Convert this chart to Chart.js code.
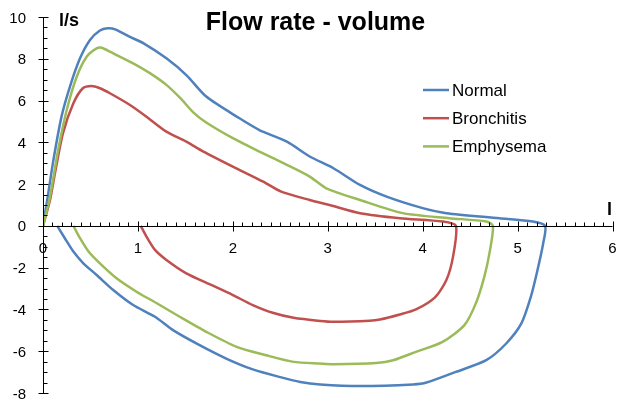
<!DOCTYPE html>
<html>
<head>
<meta charset="utf-8">
<script src="https://cdn.jsdelivr.net/npm/chart.js@4.4.1/dist/chart.umd.min.js"></script>
<style>
  html, body { margin: 0; padding: 0; background: #ffffff; }
  #wrap { width: 617px; height: 403px; position: relative; }
</style>
</head>
<body>
<div id="wrap"><canvas id="c" width="617" height="403"></canvas></div>
<script>
// ---- Data (volume in l, flow rate in l/s) ----
const seriesNames = ["Normal", "Bronchitis", "Emphysema"];
const seriesColors = ["#4F81BD", "#C0504D", "#9BBB59"];

const normalX = [0, 0.05, 0.11, 0.195, 0.284, 0.39, 0.495, 0.6, 0.68, 0.76, 0.9, 1.06, 1.3, 1.51, 1.72, 2.07, 2.28, 2.57, 2.81, 3.06, 3.34, 3.62, 4.0, 4.25, 4.81, 5.16, 5.29,
  5.27, 5.21, 5.14, 5.04, 4.88, 4.67, 4.35, 4.04, 3.90, 3.34, 2.92, 2.71, 2.49, 2.21, 1.93, 1.65, 1.37, 1.18, 0.95, 0.74, 0.565, 0.425, 0.32, 0.23, 0.15];
const normalY = [0, 1.4, 3.16, 5.23, 6.67, 8.02, 8.9, 9.35, 9.46, 9.41, 9.08, 8.74, 8.02, 7.22, 6.19, 5.15, 4.59, 4.03, 3.32, 2.76, 1.96, 1.40, 0.85, 0.61, 0.37, 0.21, 0,
  -0.83, -2.11, -3.39, -4.67, -5.63, -6.43, -6.99, -7.50, -7.59, -7.67, -7.59, -7.47, -7.23, -6.87, -6.35, -5.71, -4.99, -4.35, -3.79, -3.07, -2.35, -1.79, -1.23, -0.59, 0];

const bronchitisX = [0, 0.074, 0.126, 0.21, 0.32, 0.42, 0.51, 0.6, 0.705, 0.916, 1.09, 1.30, 1.51, 1.69, 2.0, 2.32, 2.51, 2.81, 3.02, 3.34, 3.76, 4.21, 4.35,
  4.32, 4.25, 4.13, 3.93, 3.76, 3.55, 3.44, 3.06, 2.92, 2.64, 2.42, 2.21, 2.0, 1.76, 1.51, 1.30, 1.18, 1.09, 1.03];
const bronchitisY = [0, 1.24, 2.52, 4.43, 5.87, 6.59, 6.70, 6.59, 6.35, 5.79, 5.23, 4.51, 4.03, 3.56, 2.84, 2.12, 1.64, 1.24, 1.0, 0.61, 0.37, 0.21, 0,
  -1.47, -2.59, -3.42, -4.0, -4.24, -4.48, -4.54, -4.59, -4.55, -4.40, -4.16, -3.79, -3.31, -2.80, -2.27, -1.63, -1.15, -0.51, 0];

const emphysemaX = [0, 0.074, 0.16, 0.25, 0.355, 0.46, 0.565, 0.618, 0.705, 0.95, 1.13, 1.30, 1.45, 1.58, 1.72, 2.0, 2.28, 2.57, 2.81, 2.985, 3.34, 3.79, 4.28, 4.67, 4.74,
  4.71, 4.65, 4.56, 4.44, 4.21, 3.93, 3.69, 3.51, 3.06, 2.92, 2.64, 2.35, 2.04, 1.72, 1.44, 1.19, 0.985, 0.775, 0.58, 0.48, 0.39, 0.32];
const emphysemaY = [0, 1.40, 3.64, 5.55, 7.14, 8.10, 8.50, 8.53, 8.34, 7.78, 7.30, 6.75, 6.10, 5.45, 4.95, 4.20, 3.56, 2.92, 2.36, 1.80, 1.24, 0.61, 0.37, 0.21, 0,
  -1.15, -2.43, -3.71, -4.75, -5.55, -6.03, -6.43, -6.56, -6.62, -6.59, -6.51, -6.19, -5.79, -5.07, -4.35, -3.68, -3.15, -2.51, -1.71, -1.23, -0.59, 0];

// Axis settings
const xMin = 0, xMax = 6, xStep = 1, xMinorStep = 0.1;
const yMin = -8, yMax = 10, yStep = 2, yMinorStep = 0.5;
const xTickLabels = ["0", "1", "2", "3", "4", "5", "6"];
const yTickLabels = ["-8", "-6", "-4", "-2", "0", "2", "4", "6", "8", "10"];
const chartTitle = "Flow rate - volume";
const yUnit = "l/s";
const xUnit = "l";

const FONT = "'Liberation Sans', Arial, Helvetica, sans-serif";

function pts(xs, ys) { return xs.map((x, i) => ({ x: x, y: ys[i] })); }
const seriesData = [pts(normalX, normalY), pts(bronchitisX, bronchitisY), pts(emphysemaX, emphysemaY)];

const datasets = seriesNames.map((n, i) => ({
  label: n,
  data: seriesData[i],
  borderColor: seriesColors[i],
  backgroundColor: seriesColors[i],
  borderWidth: 2.5,
  pointRadius: 0,
  pointHoverRadius: 0,
  showLine: true,
  fill: false,
  tension: 0.25,
  order: seriesNames.length - i
}));

const decorPlugin = {
  id: 'decor',
  afterDraw(chart) {
    const ctx = chart.ctx;
    const xs = chart.scales.x, ys = chart.scales.y;
    const x0 = xs.getPixelForValue(0), y0 = ys.getPixelForValue(0);
    ctx.save();
    // axis lines
    ctx.strokeStyle = '#000';
    ctx.lineWidth = 1;
    const ax = Math.round(x0) + 0.5, ay = Math.round(y0) + 0.5;
    ctx.beginPath();
    ctx.moveTo(xs.getPixelForValue(xMin), ay);
    ctx.lineTo(xs.getPixelForValue(xMax), ay);
    ctx.moveTo(ax, ys.getPixelForValue(yMax));
    ctx.lineTo(ax, ys.getPixelForValue(yMin));
    ctx.stroke();
    // x ticks
    const nx = Math.round((xMax - xMin) / xMinorStep);
    for (let i = 0; i <= nx; i++) {
      const v = xMin + i * xMinorStep;
      const px = Math.round(xs.getPixelForValue(v)) + 0.5;
      const major = Math.abs(v / xStep - Math.round(v / xStep)) < 1e-6;
      ctx.beginPath();
      ctx.moveTo(px, ay - (major ? 5 : 4));
      ctx.lineTo(px, ay + (major ? 5 : 0));
      ctx.stroke();
    }
    // y ticks
    const ny = Math.round((yMax - yMin) / yMinorStep);
    for (let i = 0; i <= ny; i++) {
      const v = yMin + i * yMinorStep;
      const py = Math.round(ys.getPixelForValue(v)) + 0.5;
      const major = Math.abs(v / yStep - Math.round(v / yStep)) < 1e-6;
      ctx.beginPath();
      ctx.moveTo(ax - (major ? 5 : 0), py);
      ctx.lineTo(ax + (major ? 5 : 4), py);
      ctx.stroke();
    }
    // tick labels
    ctx.fillStyle = '#000';
    ctx.font = '15px ' + FONT;
    ctx.textBaseline = 'alphabetic';
    ctx.textAlign = 'center';
    xTickLabels.forEach((t, i) => {
      const v = xMin + i * xStep;
      ctx.fillText(t, xs.getPixelForValue(v), y0 + 27);
    });
    ctx.textAlign = 'right';
    yTickLabels.forEach((t, i) => {
      const v = yMin + i * yStep;
      ctx.fillText(t, x0 - 17, ys.getPixelForValue(v) + 5.5);
    });
    // Title
    ctx.font = 'bold 25px ' + FONT;
    ctx.textAlign = 'center';
    ctx.fillText(chartTitle, 315.5, 30);
    // unit labels
    ctx.font = 'bold 18px ' + FONT;
    ctx.textAlign = 'left';
    ctx.fillText(yUnit, 59, 26);
    ctx.fillText(xUnit, 607, 215);
    // legend
    ctx.font = '17px ' + FONT;
    ctx.textBaseline = 'middle';
    chart.data.datasets.forEach((ds, i) => {
      const ly = 90 + i * 28.2;
      ctx.strokeStyle = ds.borderColor;
      ctx.lineWidth = 2.5;
      ctx.beginPath();
      ctx.moveTo(423, ly);
      ctx.lineTo(449, ly);
      ctx.stroke();
      ctx.fillStyle = '#000';
      ctx.fillText(ds.label, 452, ly + 1);
    });
    ctx.restore();
  }
};

new Chart(document.getElementById('c'), {
  type: 'scatter',
  data: { datasets: datasets },
  options: {
    responsive: false,
    animation: false,
    events: [],
    layout: { padding: { left: 43, right: 4.5, top: 17, bottom: 10 } },
    plugins: {
      legend: { display: false },
      title: { display: false },
      tooltip: { enabled: false }
    },
    scales: {
      x: {
        type: 'linear',
        position: { y: 0 },
        min: xMin, max: xMax,
        ticks: { display: false, stepSize: xStep },
        grid: { display: false, drawTicks: false },
        border: { display: false }
      },
      y: {
        type: 'linear',
        position: { x: 0 },
        min: yMin, max: yMax,
        ticks: { display: false, stepSize: yStep },
        grid: { display: false, drawTicks: false },
        border: { display: false }
      }
    }
  },
  plugins: [decorPlugin]
});
</script>
</body>
</html>
